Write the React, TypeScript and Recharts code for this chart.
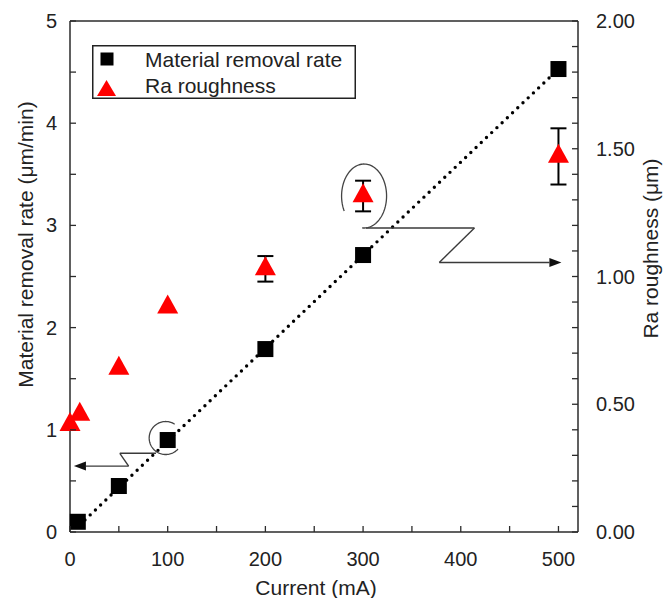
import React from "react";
import {
  ComposedChart, XAxis, YAxis, Scatter, Line, ErrorBar, ReferenceLine, ReferenceDot, Legend,
} from "recharts";

// material removal rate (left axis, µm/min)
const mrrCurrent = [8, 50, 100, 200, 300, 500];
const mrrRate = [0.1, 0.45, 0.9, 1.79, 2.71, 4.53];

// Ra roughness (right axis, µm) with error bars
const raCurrent = [0, 10, 50, 100, 200, 300, 500];
const raValue = [0.42, 0.46, 0.64, 0.88, 1.03, 1.315, 1.47];
const raError = [0, 0, 0, 0, 0.05, 0.06, 0.11];

// dotted linear fit through the removal rate
const fitCurrent = [10, 500];
const fitRate = [0.07, 4.53];

const xTicks = [0, 50, 100, 150, 200, 250, 300, 350, 400, 450, 500];
const leftTicks = [0, 0.5, 1, 1.5, 2, 2.5, 3, 3.5, 4, 4.5, 5];
const rightTicks = [
  0, 0.1, 0.2, 0.3, 0.4, 0.5, 0.6, 0.7, 0.8, 0.9, 1.0,
  1.1, 1.2, 1.3, 1.4, 1.5, 1.6, 1.7, 1.8, 1.9, 2.0,
];

const mrrData = mrrCurrent.map((x, i) => ({ x, y: mrrRate[i] }));
const raData = raCurrent.map((x, i) => ({ x, y: raValue[i], err: raError[i] }));
const raErrData = raData.filter((d) => d.err > 0);
const fitData = fitCurrent.map((x, i) => ({ x, y: fitRate[i] }));

const FONT = "'Liberation Sans', Arial, Helvetica, sans-serif";
const AXIS = "#2b2b2b";
const TEXT = "#222";
const NOTE = "#3a3a3a";

const isMajor = (v: number, step: number) => Math.abs(v / step - Math.round(v / step)) < 1e-6;

function XTick({ x, y, payload }: any) {
  const v = payload.value;
  return (
    <g>
      <line x1={x} y1={y} x2={x} y2={y - 6} stroke={AXIS} strokeWidth={1.3} />
      {isMajor(v, 100) && (
        <text x={x} y={y + 34} textAnchor="middle" fontSize={20} fill={TEXT} fontFamily={FONT}>{v}</text>
      )}
    </g>
  );
}

function LeftTick({ x, y, payload }: any) {
  const v = payload.value;
  return (
    <g>
      <line x1={x} y1={y} x2={x + 6} y2={y} stroke={AXIS} strokeWidth={1.3} />
      {isMajor(v, 1) && (
        <text x={x - 13} y={y + 7} textAnchor="end" fontSize={20} fill={TEXT} fontFamily={FONT}>{v}</text>
      )}
    </g>
  );
}

function RightTick({ x, y, payload }: any) {
  const v = payload.value;
  return (
    <g>
      <line x1={x} y1={y} x2={x - 6} y2={y} stroke={AXIS} strokeWidth={1.3} />
      {isMajor(v, 0.5) && (
        <text x={x + 18} y={y + 7} textAnchor="start" fontSize={20} fill={TEXT} fontFamily={FONT}>{v.toFixed(2)}</text>
      )}
    </g>
  );
}

function XTitle(props: any) {
  const vb = props.viewBox || { x: 70, y: 532, width: 508, height: 66 };
  return (
    <text x={vb.x + vb.width / 2 - 8} y={vb.y + 63} textAnchor="middle" fontSize={21} fill={TEXT} fontFamily={FONT}>
      Current  (mA)
    </text>
  );
}

function LeftTitle(props: any) {
  const vb = props.viewBox || { x: 0, y: 21, width: 70, height: 511 };
  const cx = vb.x + 33;
  const cy = vb.y + vb.height / 2 - 32;
  return (
    <text x={cx} y={cy} transform={`rotate(-90 ${cx} ${cy})`} textAnchor="middle" fontSize={21} fill={TEXT} fontFamily={FONT}>
      Material removal rate (μm/min)
    </text>
  );
}

function RightTitle(props: any) {
  const vb = props.viewBox || { x: 578, y: 21, width: 92, height: 511 };
  const cx = vb.x + 80;
  const cy = vb.y + vb.height / 2 - 28;
  return (
    <text x={cx} y={cy} transform={`rotate(-90 ${cx} ${cy})`} textAnchor="middle" fontSize={21} fill={TEXT} fontFamily={FONT}>
      Ra roughness  (μm)
    </text>
  );
}

const Square = (p: any) => <rect x={p.cx - 8} y={p.cy - 8} width={16} height={16} fill="#000" />;
const Triangle = (p: any) => (
  <polygon
    points={`${p.cx},${p.cy - 12.7} ${p.cx - 10.5},${p.cy + 6.3} ${p.cx + 10.5},${p.cy + 6.3}`}
    fill="#ff0000"
  />
);
const Nothing = () => <g />;

function ArrowLine(props: any) {
  const { x1, y1, x2, y2 } = props;
  const a = Math.atan2(y2 - y1, x2 - x1);
  const len = 12;
  const half = 4.5;
  const bx = x2 - len * Math.cos(a);
  const by = y2 - len * Math.sin(a);
  const px = -Math.sin(a) * half;
  const py = Math.cos(a) * half;
  return (
    <g>
      <line x1={x1} y1={y1} x2={bx} y2={by} stroke={NOTE} strokeWidth={1.4} />
      <polygon points={`${x2},${y2} ${bx + px},${by + py} ${bx - px},${by - py}`} fill="#111" />
    </g>
  );
}

// open ellipse drawn around a point; angles in degrees, clockwise on screen
const openEllipse = (rx: number, ry: number, from: number, to: number, dx: number, dy: number) => (p: any) => {
  const pts: string[] = [];
  for (let t = from; t <= to; t += 3) {
    const r = (t * Math.PI) / 180;
    pts.push(`${p.cx + dx + rx * Math.cos(r)},${p.cy + dy + ry * Math.sin(r)}`);
  }
  return <polyline points={pts.join(" ")} fill="none" stroke="#444" strokeWidth={1.3} />;
};

function LegendBox() {
  return (
    <svg width={264} height={54} style={{ display: "block" }}>
      <rect x={0.75} y={0.75} width={262.5} height={52.5} fill="#fff" stroke="#222" strokeWidth={1.5} />
      <rect x={8.5} y={7.5} width={13} height={13} fill="#000" />
      <polygon points="14.5,35 5,51 24,51" fill="#ff0000" />
      <text x={53} y={22} fontSize={21} fill={TEXT} fontFamily={FONT}>Material removal rate</text>
      <text x={53} y={48} fontSize={21} fill={TEXT} fontFamily={FONT}>Ra roughness</text>
    </svg>
  );
}

export default function App() {
  return (
    <div style={{ position: "absolute", left: 0, top: 0, background: "#fff" }}>
      <ComposedChart
        width={670}
        height={598}
        margin={{ top: 21, right: 0, bottom: 0, left: 0 }}
        style={{ fontFamily: FONT }}
      >
        <XAxis
          type="number"
          dataKey="x"
          domain={[0, 520]}
          ticks={xTicks}
          interval={0}
          height={66}
          tickSize={0}
          tickMargin={0}
          tickLine={false}
          axisLine={{ stroke: AXIS, strokeWidth: 1.5 }}
          tick={<XTick />}
          label={{ content: XTitle }}
        />
        <YAxis
          yAxisId="left"
          orientation="left"
          type="number"
          dataKey="y"
          domain={[0, 5]}
          ticks={leftTicks}
          interval={0}
          width={70}
          tickSize={0}
          tickMargin={0}
          tickLine={false}
          axisLine={{ stroke: AXIS, strokeWidth: 1.5 }}
          tick={<LeftTick />}
          label={{ content: LeftTitle }}
        />
        <YAxis
          yAxisId="right"
          orientation="right"
          type="number"
          dataKey="y"
          domain={[0, 2]}
          ticks={rightTicks}
          interval={0}
          width={92}
          tickSize={0}
          tickMargin={0}
          tickLine={false}
          axisLine={{ stroke: AXIS, strokeWidth: 1.5 }}
          tick={<RightTick />}
          label={{ content: RightTitle }}
        />
        <ReferenceLine yAxisId="left" y={5} stroke={AXIS} strokeWidth={1.5} />

        <Line
          data={fitData}
          yAxisId="left"
          dataKey="y"
          type="linear"
          stroke="#000"
          strokeWidth={3.4}
          strokeDasharray="0 7.2"
          strokeLinecap="round"
          dot={false}
          activeDot={false}
          isAnimationActive={false}
        />

        {/* annotation: circle around 100 mA, arrow to left axis */}
        <ReferenceDot yAxisId="left" x={100} y={0.9} shape={openEllipse(16.5, 16.5, 42, 305, -2, -2)} />
        <ReferenceLine yAxisId="left" segment={[{ x: 88, y: 0.77 }, { x: 51, y: 0.77 }]} stroke={NOTE} strokeWidth={1.4} />
        <ReferenceLine yAxisId="left" segment={[{ x: 51, y: 0.77 }, { x: 60, y: 0.645 }]} stroke={NOTE} strokeWidth={1.4} />
        <ReferenceLine yAxisId="left" segment={[{ x: 60, y: 0.645 }, { x: 4, y: 0.645 }]} shape={ArrowLine} />

        {/* annotation: ellipse around 300 mA, arrow to right axis */}
        <ReferenceDot yAxisId="right" x={300} y={1.315} shape={openEllipse(22.5, 32, 152, 455, 1, 0)} />
        <ReferenceLine yAxisId="right" segment={[{ x: 303, y: 1.19 }, { x: 414, y: 1.19 }]} stroke={NOTE} strokeWidth={1.4} />
        <ReferenceLine yAxisId="right" segment={[{ x: 414, y: 1.19 }, { x: 378, y: 1.055 }]} stroke={NOTE} strokeWidth={1.4} />
        <ReferenceLine yAxisId="right" segment={[{ x: 378, y: 1.055 }, { x: 503, y: 1.055 }]} shape={ArrowLine} />

        <Scatter data={mrrData} yAxisId="left" dataKey="y" shape={Square} isAnimationActive={false} />
        <Scatter data={raErrData} yAxisId="right" dataKey="y" shape={Nothing} isAnimationActive={false}>
          <ErrorBar dataKey="err" direction="y" width={8} stroke="#000" strokeWidth={2} />
        </Scatter>
        <Scatter data={raData} yAxisId="right" dataKey="y" shape={Triangle} isAnimationActive={false} />

        <Legend
          layout="vertical"
          align="center"
          verticalAlign="middle"
          content={() => <LegendBox />}
          wrapperStyle={{ left: 92, top: 45, width: 264, height: 54 }}
        />
      </ComposedChart>
    </div>
  );
}
